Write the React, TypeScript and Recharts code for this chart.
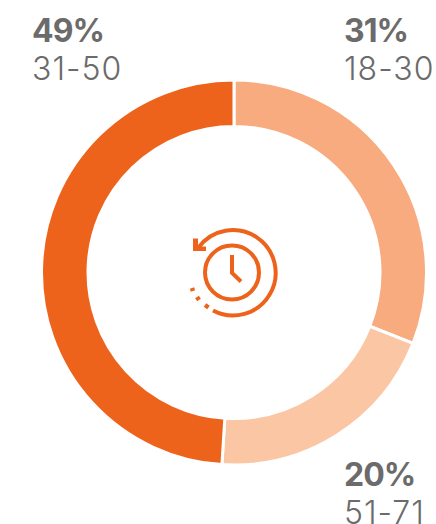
import React from "react";
import { PieChart, Pie, Cell } from "recharts";

const ageGroups = ["18-30", "51-71", "31-50"];
const shares = [31, 20, 49];
const sliceColors = ["#F7AB7E", "#FBC6A4", "#EE631B"];
const rows = ageGroups.map((name, i) => ({ name, value: shares[i] }));

const labelSpots = [
  { left: 344, top: 12 },
  { left: 344, top: 456 },
  { left: 32, top: 12 },
];

const ORANGE = "#EE631B";

function Icon() {
  return (
    <svg width={436} height={524} style={{ position: "absolute", left: 0, top: 0, pointerEvents: "none" }}>
      <g fill="none" stroke={ORANGE} strokeWidth={4}>
        <circle cx={232} cy={272.5} r={27} />
        <path d="M232 255 V273 L241 281.5" />
        <path d="M213 310.5 A42.7 42.7 0 1 0 198.5 247.5" />
        <path d="M192 288 L193 291 M197 297 L199 300 M205 305 L208.5 307.5" strokeWidth={4.5} />
      </g>
      <path d="M193 238.5 H198 V246.5 H206 V251 H193 Z" fill={ORANGE} />
    </svg>
  );
}

export default function App() {
  return (
    <div style={{ position: "absolute", left: 0, top: 0, width: 436, height: 524, overflow: "hidden", fontFamily: "Inter, sans-serif", color: "#6B6B6B" }}>
      <PieChart width={436} height={524} margin={{ top: 0, right: 0, bottom: 0, left: 0 }}>
        <Pie
          data={rows}
          dataKey="value"
          nameKey="name"
          cx={234}
          cy={272.5}
          innerRadius={146}
          outerRadius={192.5}
          startAngle={90}
          endAngle={-270}
          stroke="#FFFFFF"
          strokeWidth={3}
          isAnimationActive={false}
        >
          {rows.map((r, i) => (
            <Cell key={r.name} fill={sliceColors[i]} />
          ))}
        </Pie>
      </PieChart>
      <Icon />
      {rows.map((r, i) => (
        <div key={r.name} style={{ position: "absolute", left: labelSpots[i].left, top: labelSpots[i].top, fontSize: 32, lineHeight: "38px", whiteSpace: "nowrap" }}>
          <div style={{ fontWeight: 700, letterSpacing: -1 }}>{r.value}%</div>
          <div style={{ fontWeight: 300, letterSpacing: 1 }}>{r.name}</div>
        </div>
      ))}
    </div>
  );
}
